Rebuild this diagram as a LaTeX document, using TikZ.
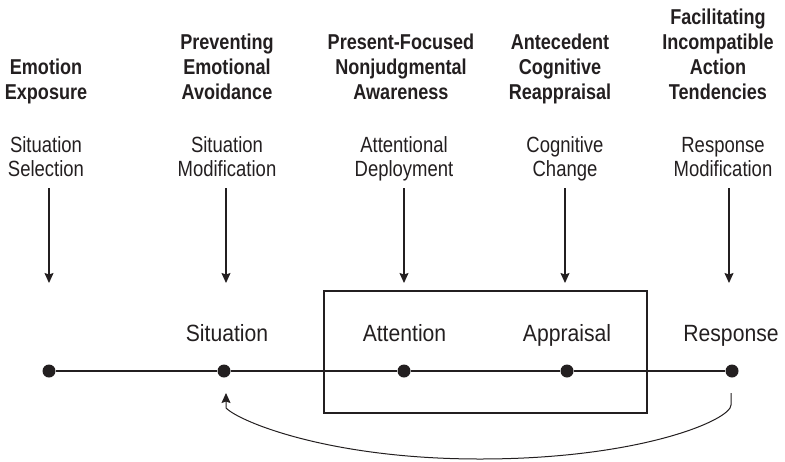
\documentclass[tikz,border=0pt]{standalone}
\usepackage{fontspec}
\setmainfont{Liberation Sans}
\newfontfamily\narrowsans[FakeStretch=0.84]{Liberation Sans}
\newfontfamily\stagesans[FakeStretch=0.9]{Liberation Sans}
\usetikzlibrary{arrows.meta}
\definecolor{ink}{HTML}{231F20}
\begin{document}
\begin{tikzpicture}[x=1pt,y=-1pt,color=ink,
  title/.style={anchor=south,inner sep=0pt,align=center,font=\narrowsans\fontsize{21.5}{25}\selectfont\bfseries},
  strat/.style={anchor=south,inner sep=0pt,align=center,font=\narrowsans\fontsize{22}{24.5}\selectfont},
  stage/.style={anchor=base,inner sep=0pt,font=\stagesans\fontsize{23.5}{26}\selectfont},
  dot/.style={circle,fill=ink,inner sep=0pt,minimum size=13pt},
  arr/.style={line width=1.2pt,-{Stealth[length=10pt,width=9pt,inset=1.5pt]}},
  line/.style={line width=1.2pt}]
\useasboundingbox (0,0) rectangle (785,461);

% emotion regulation skills (bold headings)
\node[title] (t1) at (46,107.5) {Emotion\\Exposure\strut};
\node[title] (t2) at (227,107.5) {Preventing\\Emotional\\Avoidance\strut};
\node[title] (t3) at (401,107.5) {Present-Focused\\Nonjudgmental\\Awareness\strut};
\node[title] (t4) at (560,107.5) {Antecedent\\Cognitive\\Reappraisal\strut};
\node[title] (t5) at (718,107.5) {Facilitating\\Incompatible\\Action\\Tendencies\strut};

% regulation strategy families
\node[strat] (s1) at (46,184.5) {Situation\\Selection\strut};
\node[strat] (s2) at (227,184.5) {Situation\\Modification\strut};
\node[strat] (s3) at (404,184.5) {Attentional\\Deployment\strut};
\node[strat] (s4) at (565,184.5) {Cognitive\\Change\strut};
\node[strat] (s5) at (723,184.5) {Response\\Modification\strut};

% arrow tips on the process line
\coordinate (a1) at (49,283);
\coordinate (a2) at (226,283);
\coordinate (a3) at (404,283);
\coordinate (a4) at (565,283);
\coordinate (a5) at (729,283);
\foreach \i in {1,...,5}
  \draw[arr] (a\i |- 0,188) -- (a\i);

% appraisal window
\node[draw,line width=1.8pt,minimum width=323pt,minimum height=122pt,inner sep=0pt] (box) at (485.5,352) {};

% modal model stages
\node[stage] (l2) at (227,341) {Situation};
\node[stage] (l3) at (404.5,341) {Attention};
\node[stage] (l4) at (567,341) {Appraisal};
\node[stage] (l5) at (731,341) {Response};

\node[dot] (d1) at (49,371) {};
\node[dot] (d2) at (224,371) {};
\node[dot] (d3) at (404,371) {};
\node[dot] (d4) at (567,371) {};
\node[dot] (d5) at (732,371) {};
\draw[line] (d1) -- (d2) -- (d3) -- (d4) -- (d5);

% feedback from response back to situation
\coordinate (fbS) at (731,393);
\coordinate (fbE) at (226,393);
\draw[arr,line width=1pt] (fbS) -- (731,405)
  .. controls (731,420) and (640,459) .. (480,459)
  .. controls (330,459) and (240,422) .. (226,408) -- (fbE);
\end{tikzpicture}
\end{document}
